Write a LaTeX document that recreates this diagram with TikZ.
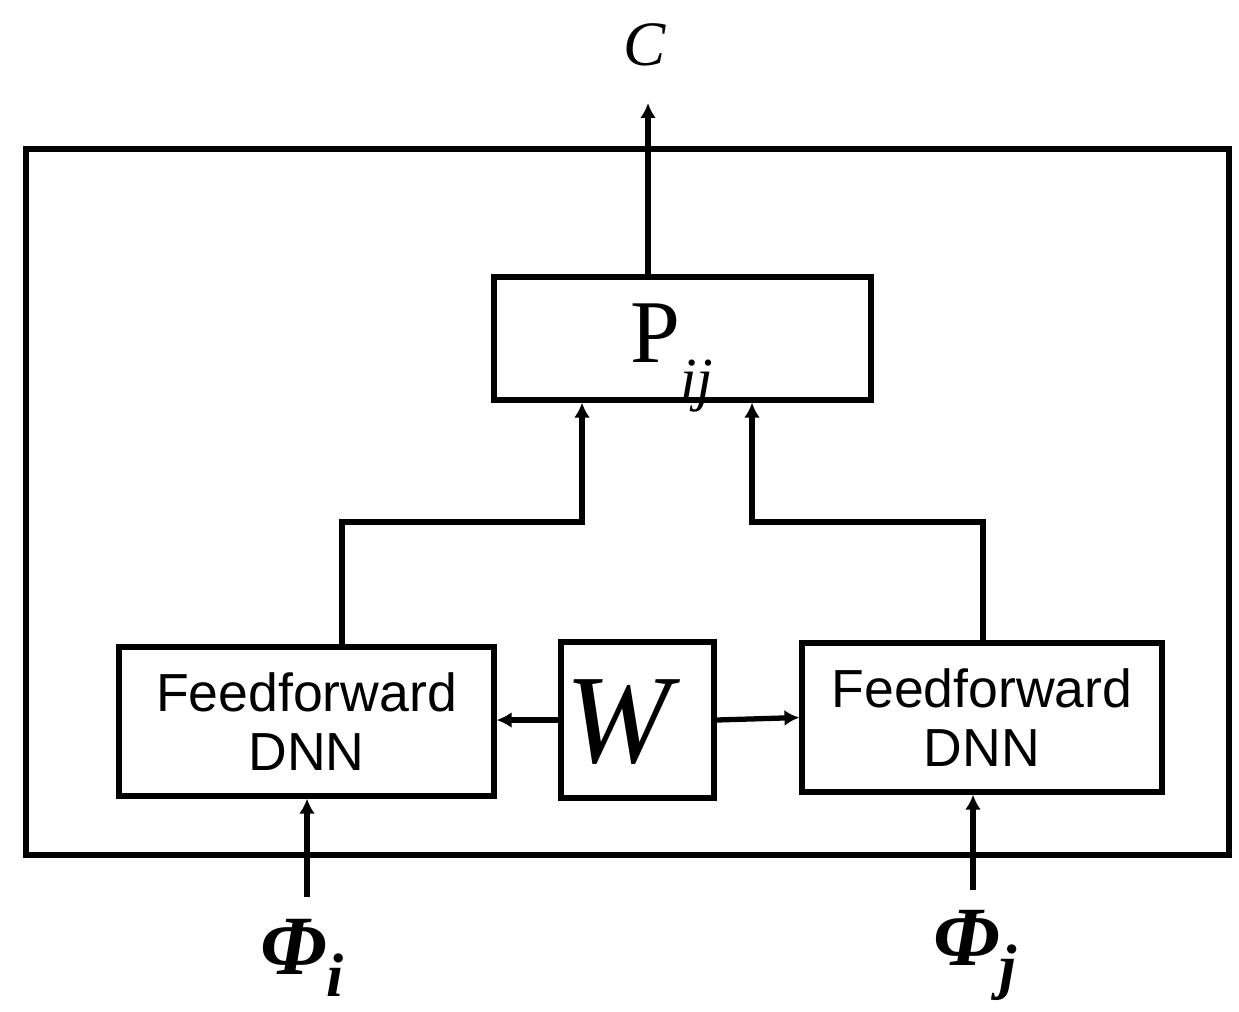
\documentclass[tikz,border=0pt]{standalone}
\usepackage{fontspec}
\newfontfamily\arialfont{Liberation Sans}
\newfontfamily\timesfont{Liberation Serif}
\usetikzlibrary{arrows.meta}
\tikzset{
  box/.style={draw=black, line width=3pt, fill=white, inner sep=0pt, rectangle},
  arr/.style={line width=3pt, -{Latex[length=8.5pt,width=9pt]}},
  fftext/.style={font=\arialfont\fontsize{30.5}{33.5}\selectfont, align=center},
  lbl/.style={inner sep=0pt}
}
\begin{document}
\begin{tikzpicture}[x=0.02cm,y=-0.02cm]
\useasboundingbox (0,0) rectangle (1239,1011);
% outer frame
\node[box, fill=none, minimum width=1203*0.02cm, minimum height=706*0.02cm] (frame) at (627.5,502) {};
% boxes
\node[box, minimum width=377*0.02cm, minimum height=123*0.02cm] (P) at (682.5,338.5) {};
\node[lbl] (ptext) at (672,358) {\timesfont\fontsize{51}{53}\selectfont P\raisebox{-0.42em}{\fontsize{34}{36}\selectfont\itshape ij}};
\node[box, fftext, minimum width=375*0.02cm, minimum height=149*0.02cm] (ffl) at (306.5,721.5) {Feedforward\\[0pt]DNN};
\node[box, minimum width=153*0.02cm, minimum height=156*0.02cm] (W) at (637.5,720) {};
\node[lbl] (wtext) at (618,722) {\timesfont\fontsize{72}{76}\selectfont\itshape W};
\node[box, fftext, minimum width=360*0.02cm, minimum height=149*0.02cm] (ffr) at (982,717.5) {Feedforward\\[0pt]DNN};
% labels
\node[lbl] (C) at (645,45) {\timesfont\fontsize{36}{38}\selectfont\itshape C};
\node[lbl] (phii) at (302,958) {\timesfont\fontsize{48}{50}\selectfont\bfseries\itshape Φ\raisebox{-0.26em}{\fontsize{35}{37}\selectfont i}};
\node[lbl] (phij) at (975,955) {\timesfont\fontsize{48}{50}\selectfont\bfseries\itshape Φ\raisebox{-0.26em}{\fontsize{35}{37}\selectfont j}};
\coordinate (outc) at (648,103);
\coordinate (ini) at (307,897);
\coordinate (inj) at (973,890);
% connectors
\draw[arr] (outc |- P.north) -- (outc);
\draw[arr] (342,0 |- ffl.north) -- (342,522) -- (582,522) -- (582,0 |- P.south);
\draw[arr] (983,0 |- ffr.north) -- (983,522) -- (752,522) -- (752,0 |- P.south);
\draw[arr] (W.west) -- (W.west -| ffl.east);
\draw[arr] (W.east) -- (ffr.west);
\draw[arr] (ini) -- (ini |- ffl.south);
\draw[arr] (inj) -- (inj |- ffr.south);
\end{tikzpicture}
\end{document}
